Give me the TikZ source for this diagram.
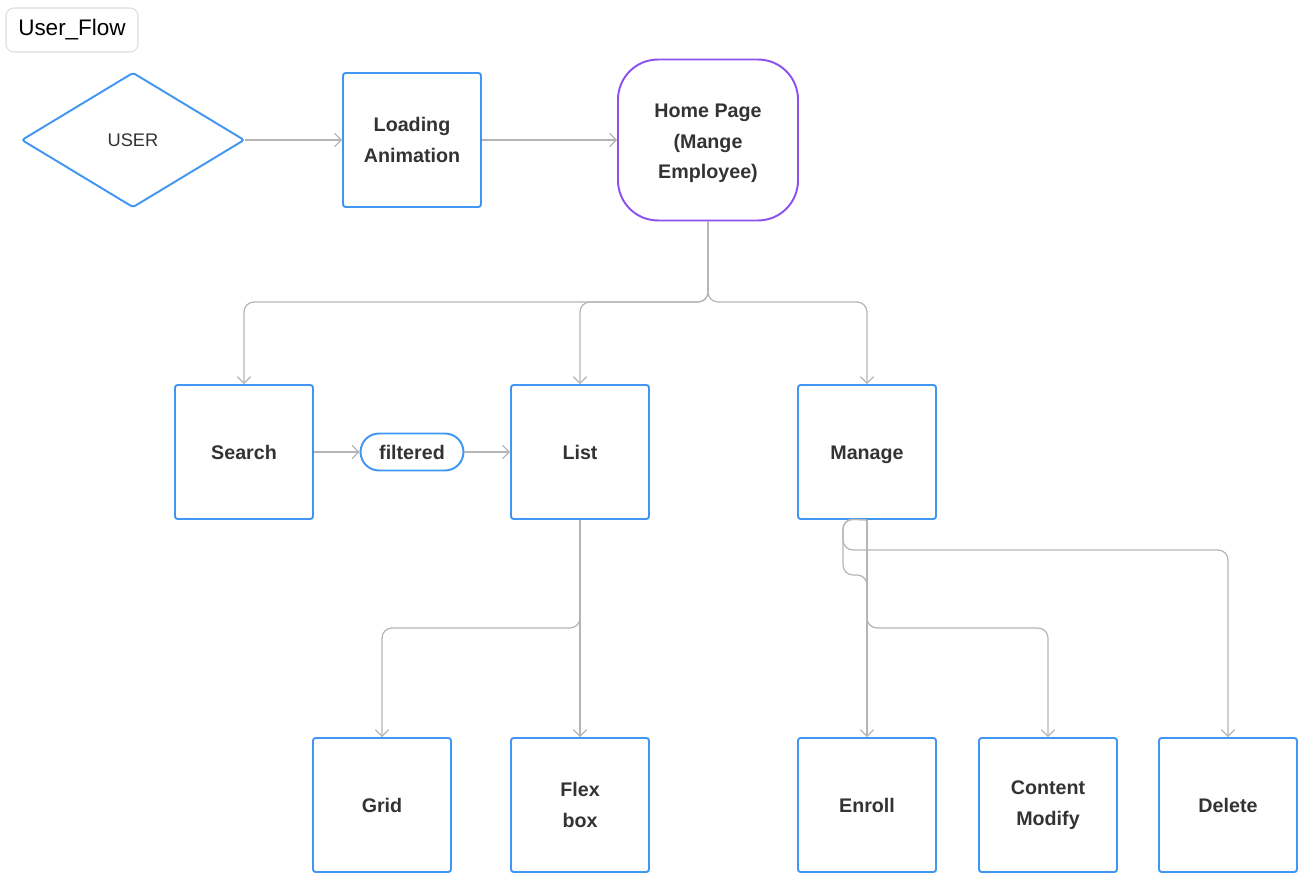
\documentclass[tikz,border=0pt]{standalone}
\usepackage{fontspec}
\setmainfont{Liberation Sans}
\usetikzlibrary{arrows.meta,shapes.geometric}
\definecolor{ufblue}{RGB}{66,150,243}
\definecolor{ufpurple}{RGB}{140,80,240}
\definecolor{ufgray}{RGB}{181,181,181}
\definecolor{uftext}{RGB}{51,51,51}
\definecolor{uflight}{RGB}{220,220,220}

\begin{document}
\begin{tikzpicture}[x=0.02cm,y=-0.02cm,line width=1.1pt,>={Straight Barb[length=1.3mm,width=2.6mm]},
  box/.style={draw=ufblue,rounded corners=1.5pt,minimum width=2.76cm,minimum height=2.68cm,
    align=center,text=uftext,font=\fontsize{11.2}{17.3}\selectfont\bfseries},
  link/.style={draw=ufgray,line width=0.7pt,rounded corners=0.2cm,->}]
  \useasboundingbox (0,0) rectangle (1316,888);
  % title
  \node[draw=uflight,line width=0.6pt,rounded corners=0.16cm,minimum width=2.64cm,minimum height=0.88cm,
    font=\fontsize{12.8}{14}\selectfont] (title) at (72,30) {User\_Flow};
  % top row
  \node[diamond,draw=ufblue,rounded corners=1.5pt,minimum width=4.46cm,minimum height=2.7cm,inner sep=0pt,
    text=uftext,font=\fontsize{10.4}{13}\selectfont] (user) at (133,140) {USER};
  \node[box] (load) at (412,140) {Loading\\Animation};
  \node[box,draw=ufpurple,minimum width=3.6cm,minimum height=3.22cm,rounded corners=0.8cm] (home) at (708,140) {\rule{0pt}{11.6pt}Home Page\\(Mange\\Employee)};
  % middle row
  \node[box] (search) at (244,452) {Search};
  \node[box,minimum width=2.06cm,minimum height=0.74cm,rounded corners=0.37cm,inner sep=0pt] (filtered) at (412,452) {filtered};
  \node[box] (list) at (580,452) {List};
  \node[box] (manage) at (867,452) {\rule[-2.4pt]{0pt}{0pt}Manage\rule{0pt}{10.4pt}};
  % bottom row
  \node[box] (grid) at (382,805) {Grid};
  \node[box] (flex) at (580,805) {Flex\\box};
  \node[box] (enroll) at (867,805) {Enroll};
  \node[box] (content) at (1048,805) {Content\\Modify};
  \node[box] (delete) at (1228,805) {Delete};
  % branch points
  \coordinate (hj) at (708,302);
  \coordinate (lj) at (580,628);
  \coordinate (mj) at (843,519);
  % connectors
  \draw[link] (user.east) -- (load.west);
  \draw[link] (load.east) -- (home.west);
  \draw[link] (home.south) -- (hj) -| (search.north);
  \draw[link] (home.south) -- (hj) -| (list.north);
  \draw[link] (home.south) -- (hj) -| (manage.north);
  \draw[link] (search.east) -- (filtered.west);
  \draw[link] (filtered.east) -- (list.west);
  \draw[link] (list.south) -- (lj) -| (grid.north);
  \draw[link] (list.south) -- (flex.north);
  \draw[link] (manage.south) -- (enroll.north);
  \draw[link] (manage.south) -- (mj) -- ++(0,31) -| (delete.north);
  \draw[link] (manage.south) -- (mj) -- ++(0,56) -- ++(24,0) -- ++(0,53) -| (content.north);
\end{tikzpicture}
\end{document}
